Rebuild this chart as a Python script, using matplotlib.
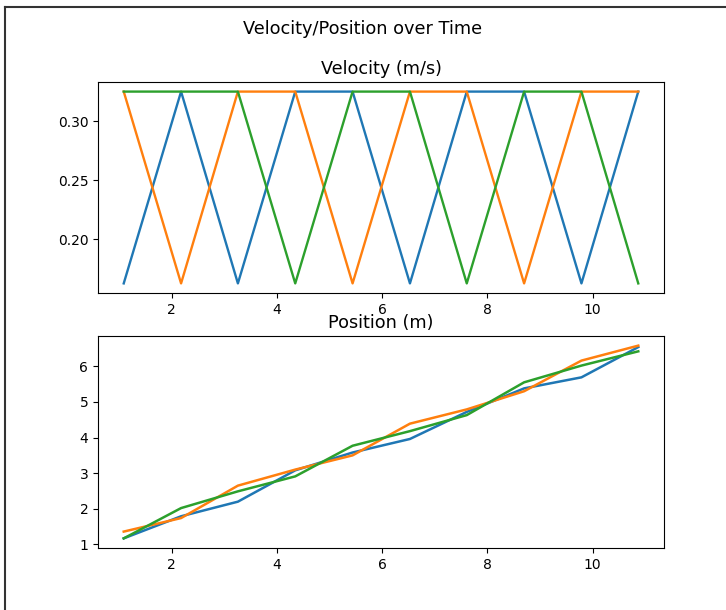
import matplotlib
matplotlib.use("Agg")
import matplotlib.pyplot as plt
from matplotlib.lines import Line2D

# Time samples
time = [1.09, 2.18, 3.26, 4.35, 5.44, 6.53, 7.61, 8.70, 9.79, 10.87]

# Velocity (m/s)
v_hi, v_lo = 0.325, 0.1625
vel_blue   = [v_lo, v_hi, v_lo, v_hi, v_hi, v_lo, v_hi, v_hi, v_lo, v_hi]
vel_orange = [v_hi, v_lo, v_hi, v_hi, v_lo, v_hi, v_hi, v_lo, v_hi, v_hi]
vel_green  = [v_hi, v_hi, v_hi, v_lo, v_hi, v_hi, v_lo, v_hi, v_hi, v_lo]

# Position (m)
pos_blue   = [1.17, 1.79, 2.20, 3.08, 3.58, 3.96, 4.72, 5.38, 5.69, 6.54]
pos_orange = [1.36, 1.74, 2.65, 3.10, 3.50, 4.39, 4.79, 5.30, 6.16, 6.58]
pos_green  = [1.17, 2.02, 2.49, 2.91, 3.77, 4.18, 4.63, 5.55, 6.02, 6.42]

W, H = 726, 610
fig = plt.figure(figsize=(W / 100, H / 100), dpi=100)

ax1 = fig.add_axes([98 / W, 1 - 293 / H, 566 / W, 211 / H])
ax2 = fig.add_axes([98 / W, 1 - 548 / H, 566 / W, 212 / H])

for v in (vel_blue, vel_orange, vel_green):
    ax1.plot(time, v, lw=1.7)
for p in (pos_blue, pos_orange, pos_green):
    ax2.plot(time, p, lw=1.8)

ax1.set_title("Velocity (m/s)", fontsize=12.7)
ax2.set_title("Position (m)", fontsize=12.7)
fig.suptitle("Velocity/Position over Time", fontsize=12.8, y=1 - 29 / H, va="center")

for ax in (ax1, ax2):
    ax.tick_params(labelsize=10)

# screenshot frame (top and left)
fig.add_artist(Line2D([5 / W, 1], [1 - 7 / H, 1 - 7 / H], transform=fig.transFigure,
                      color="#333333", lw=1.5))
fig.add_artist(Line2D([5 / W, 5 / W], [0, 1 - 7 / H], transform=fig.transFigure,
                      color="#333333", lw=1.5))

fig.savefig("out.png", dpi=100)
